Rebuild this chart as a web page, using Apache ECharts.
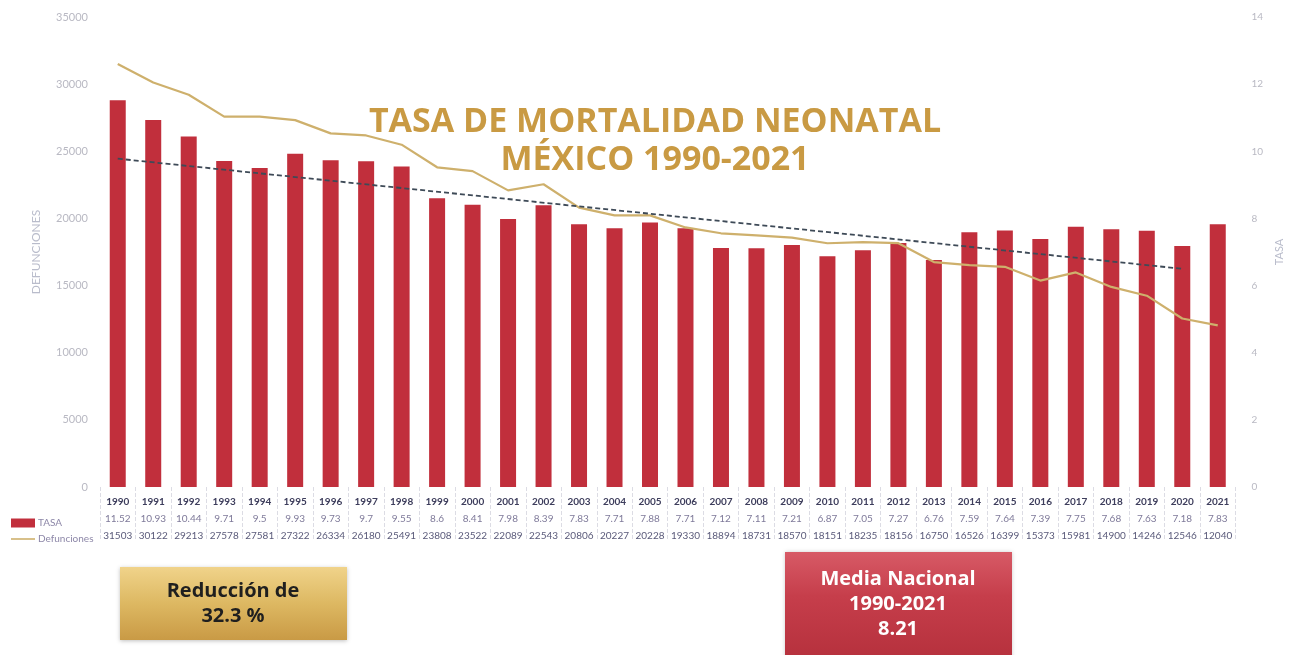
<!DOCTYPE html>
<html>
<head>
<meta charset="utf-8">
<script src="https://cdn.jsdelivr.net/npm/echarts@6/dist/echarts.min.js"></script>
<style>
  html, body { margin: 0; padding: 0; background: #fff; }
  #chart { width: 1293px; height: 655px; }
</style>
</head>
<body>
<div id="chart"></div>
<script>
const years = ['1990','1991','1992','1993','1994','1995','1996','1997','1998','1999','2000','2001','2002','2003','2004','2005','2006','2007','2008','2009','2010','2011','2012','2013','2014','2015','2016','2017','2018','2019','2020','2021'];
const tasa = [11.52,10.93,10.44,9.71,9.5,9.93,9.73,9.7,9.55,8.6,8.41,7.98,8.39,7.83,7.71,7.88,7.71,7.12,7.11,7.21,6.87,7.05,7.27,6.76,7.59,7.64,7.39,7.75,7.68,7.63,7.18,7.83];
const defunciones = [31503,30122,29213,27578,27581,27322,26334,26180,25491,23808,23522,22089,22543,20806,20227,20228,19330,18894,18731,18570,18151,18235,18156,16750,16526,16399,15373,15981,14900,14246,12546,12040];
// dashed trend line, end points
const trendStart = ['1990', 9.78];
const trendEnd = ['2020', 6.5];

const chart = echarts.init(document.getElementById('chart'));

const font = 'Lato, "Open Sans", sans-serif';
const wide = '"Open Sans", sans-serif';

chart.setOption({
  backgroundColor: '#fff',
  animation: false,
  textStyle: { fontFamily: font },
  grid: { left: 100, right: 40, top: 17, bottom: 168 },
  legend: {
    orient: 'vertical',
    left: 6,
    top: 513,
    itemGap: 6,
    itemWidth: 24,
    itemHeight: 9,
    textStyle: { fontSize: 10, color: '#8d87a8', fontFamily: font, padding: [0, 0, 0, -2] },
    data: [
      { name: 'TASA', icon: 'rect' },
      { name: 'Defunciones', icon: 'path://M0,4 L30,4 L30,6 L0,6 Z' }
    ]
  },
  xAxis: {
    type: 'category',
    data: years,
    axisLine: { show: false },
    axisTick: {
      show: true,
      inside: false,
      length: 54,
      interval: 0,
      lineStyle: { color: '#dcdce4', type: 'dashed', width: 1 }
    },
    axisLabel: {
      interval: 0,
      margin: 6,
      formatter: function (v, i) {
        return '{y|' + v + '}\n{t|' + tasa[i] + '}\n{d|' + defunciones[i] + '}';
      },
      rich: {
        y: { fontSize: 10, fontWeight: 'bold', color: '#3d3d5c', lineHeight: 17, fontFamily: font },
        t: { fontSize: 10, color: '#7f7a9a', lineHeight: 17, fontFamily: font },
        d: { fontSize: 10, color: '#5a5a7a', lineHeight: 17, fontFamily: font }
      }
    }
  },
  yAxis: [
    {
      type: 'value',
      min: 0, max: 35000, interval: 5000,
      name: 'DEFUNCIONES',
      nameLocation: 'middle',
      nameGap: 58,
      nameRotate: 90,
      nameTextStyle: { color: '#b9bccb', fontSize: 12 },
      axisLine: { show: false },
      axisTick: { show: false },
      splitLine: { show: false },
      axisLabel: { color: '#b9b9c3', fontSize: 11, margin: 12, formatter: function (v) { return String(v); } }
    },
    {
      type: 'value',
      min: 0, max: 14, interval: 2,
      name: 'TASA',
      nameLocation: 'middle',
      nameGap: 22,
      nameRotate: 90,
      nameTextStyle: { color: '#b9bccb', fontSize: 11 },
      axisLine: { show: false },
      axisTick: { show: false },
      splitLine: { show: false },
      axisLabel: { color: '#b9b9c3', fontSize: 10, margin: 16 }
    }
  ],
  series: [
    {
      name: 'TASA',
      type: 'bar',
      yAxisIndex: 1,
      data: tasa,
      barWidth: 16,
      itemStyle: { color: '#c12f3c' },
      markLine: {
        silent: true,
        symbol: 'none',
        label: { show: false },
        lineStyle: { color: '#3e4a57', type: [5, 3], width: 1.8 },
        data: [[{ coord: trendStart }, { coord: trendEnd }]]
      },
      z: 2
    },
    {
      name: 'Defunciones',
      type: 'line',
      yAxisIndex: 0,
      data: defunciones,
      showSymbol: false,
      lineStyle: { color: '#ceb06c', width: 2.2 },
      itemStyle: { color: '#ceb06c' },
      z: 3
    }
  ],
  graphic: [
    {
      type: 'text',
      x: 655,
      y: 141,
      style: {
        text: 'TASA DE MORTALIDAD NEONATAL\nMÉXICO 1990-2021',
        fill: '#c99a43',
        font: 'bold 34px ' + wide,
        textAlign: 'center',
        textVerticalAlign: 'middle',
        lineHeight: 38
      },
      z: 10
    },
    {
      type: 'group',
      left: 120,
      top: 567,
      children: [
        {
          type: 'rect',
          shape: { x: 0, y: 0, width: 227, height: 73 },
          style: {
            fill: new echarts.graphic.LinearGradient(0, 0, 0, 1, [
              { offset: 0, color: '#f0d38a' },
              { offset: 0.5, color: '#ddb862' },
              { offset: 1, color: '#c99a45' }
            ]),
            shadowBlur: 4,
            shadowColor: 'rgba(0,0,0,0.25)',
            shadowOffsetY: 1
          }
        },
        {
          type: 'text',
          style: {
            x: 113, y: 37,
            text: 'Reducción de\n32.3 %',
            fill: '#1f1f1f',
            font: 'bold 20px ' + wide,
            textAlign: 'center',
            textVerticalAlign: 'middle',
            lineHeight: 25
          }
        }
      ]
    },
    {
      type: 'group',
      left: 785,
      top: 552,
      children: [
        {
          type: 'rect',
          shape: { x: 0, y: 0, width: 227, height: 110 },
          style: {
            fill: new echarts.graphic.LinearGradient(0, 0, 0, 1, [
              { offset: 0, color: '#d75a66' },
              { offset: 0.4, color: '#c63e4b' },
              { offset: 1, color: '#b5303c' }
            ]),
            shadowBlur: 4,
            shadowColor: 'rgba(0,0,0,0.2)'
          }
        },
        {
          type: 'text',
          style: {
            x: 113, y: 52,
            text: 'Media Nacional\n1990-2021\n8.21',
            fill: '#ffffff',
            font: 'bold 20px ' + wide,
            textAlign: 'center',
            textVerticalAlign: 'middle',
            lineHeight: 25
          }
        }
      ]
    }
  ]
});
</script>
</body>
</html>
